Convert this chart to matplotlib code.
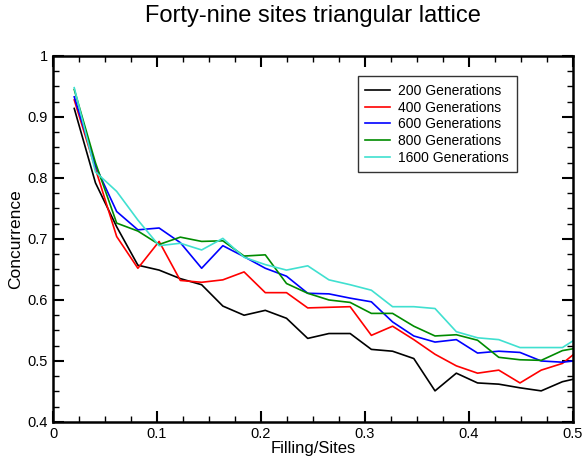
import matplotlib
matplotlib.use('Agg')
import matplotlib.pyplot as plt
from matplotlib.ticker import MultipleLocator, FormatStrFormatter

plt.rcParams['font.family'] = ['Liberation Sans', 'DejaVu Sans']

# Filling/Sites = n/49, n = 1..25
filling = [0.0204, 0.0408, 0.0612, 0.0816, 0.1020, 0.1224, 0.1429, 0.1633,
           0.1837, 0.2041, 0.2245, 0.2449, 0.2653, 0.2857, 0.3061, 0.3265,
           0.3469, 0.3673, 0.3878, 0.4082, 0.4286, 0.4490, 0.4694, 0.4898,
           0.5102]

gen_200 = [0.914, 0.792, 0.720, 0.657, 0.649, 0.635, 0.625, 0.590, 0.575,
           0.583, 0.570, 0.537, 0.545, 0.545, 0.519, 0.516, 0.504, 0.451,
           0.480, 0.464, 0.462, 0.456, 0.451, 0.466, 0.474]
gen_400 = [0.928, 0.815, 0.704, 0.652, 0.696, 0.632, 0.629, 0.633, 0.646,
           0.612, 0.612, 0.587, 0.588, 0.589, 0.542, 0.557, 0.535, 0.511,
           0.492, 0.480, 0.485, 0.464, 0.485, 0.496, 0.524]
gen_600 = [0.933, 0.820, 0.745, 0.715, 0.718, 0.694, 0.652, 0.689, 0.671,
           0.652, 0.639, 0.611, 0.610, 0.603, 0.597, 0.564, 0.541, 0.531,
           0.535, 0.513, 0.516, 0.514, 0.500, 0.498, 0.502]
gen_800 = [0.945, 0.825, 0.726, 0.713, 0.691, 0.703, 0.696, 0.697, 0.672,
           0.674, 0.627, 0.611, 0.600, 0.596, 0.578, 0.578, 0.557, 0.541,
           0.543, 0.534, 0.506, 0.502, 0.501, 0.517, 0.523]
gen_1600 = [0.948, 0.810, 0.778, 0.731, 0.689, 0.693, 0.682, 0.701, 0.670,
            0.658, 0.649, 0.656, 0.633, 0.625, 0.616, 0.589, 0.589, 0.586,
            0.548, 0.538, 0.535, 0.522, 0.522, 0.522, 0.544]

labels = ['200 Generations', '400 Generations', '600 Generations',
          '800 Generations', '1600 Generations']
colors = ['black', 'red', 'blue', '#008b00', '#40e0d0']

fig = plt.figure(figsize=(5.84, 4.63), dpi=100)
ax = fig.add_axes([0.0908, 0.0886, 0.8904, 0.7905])

for y, lab, c in zip([gen_200, gen_400, gen_600, gen_800, gen_1600], labels, colors):
    ax.plot(filling, y, color=c, lw=1.2, label=lab)

ax.set_xlim(0, 0.5)
ax.set_ylim(0.4, 1.0)
ax.xaxis.set_major_locator(MultipleLocator(0.1))
ax.xaxis.set_minor_locator(MultipleLocator(0.025))
ax.yaxis.set_major_locator(MultipleLocator(0.1))
ax.yaxis.set_minor_locator(MultipleLocator(0.025))
ax.xaxis.set_major_formatter(FormatStrFormatter('%g'))
ax.yaxis.set_major_formatter(FormatStrFormatter('%g'))
ax.tick_params(which='both', direction='in', top=True, right=True, labelsize=10.5)
ax.tick_params(which='major', length=8, width=1.5)
ax.tick_params(which='minor', length=4, width=1)
for s in ax.spines.values():
    s.set_linewidth(1.8)

ax.set_xlabel('Filling/Sites', fontsize=12, labelpad=0)
ax.set_ylabel('Concurrence', fontsize=12.5, labelpad=3)
fig.suptitle('Forty-nine sites triangular lattice', fontsize=17, x=0.536, y=0.99)

leg = ax.legend(loc='upper right', bbox_to_anchor=(0.892, 0.945), fontsize=10,
                frameon=True, fancybox=False, handlelength=1.8, handletextpad=0.6,
                labelspacing=0.2, borderpad=0.55, borderaxespad=0)
leg.get_frame().set_edgecolor('black')
leg.get_frame().set_linewidth(1)

fig.savefig('out.png', dpi=100)
